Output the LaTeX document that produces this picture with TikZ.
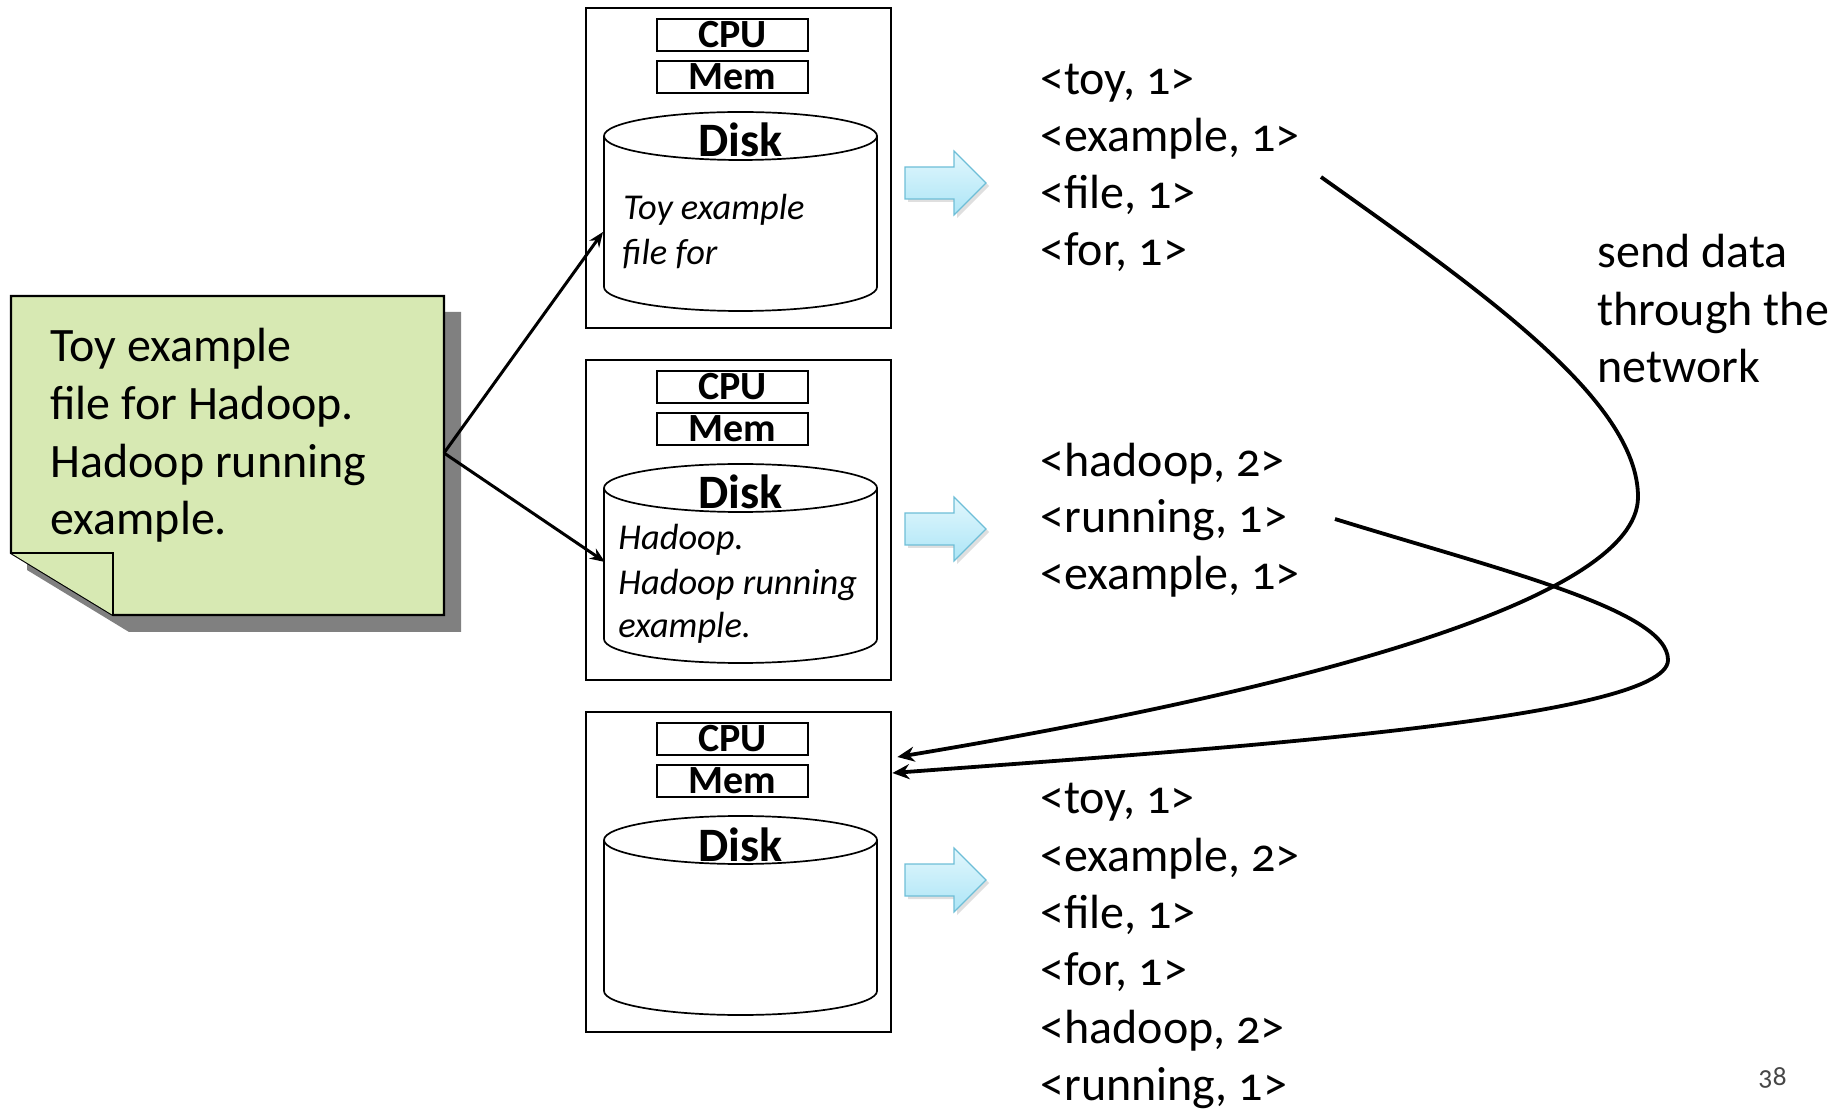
\documentclass[tikz,border=0pt]{standalone}
\usepackage{fontspec}
\setmainfont{Carlito}[Numbers=OldStyle]
\usetikzlibrary{arrows.meta,shadows,calc}
\definecolor{notefill}{RGB}{215,233,179}
\definecolor{noteshadow}{RGB}{128,128,128}
\definecolor{flowtop}{RGB}{226,247,253}
\definecolor{flowbot}{RGB}{172,229,246}
\definecolor{flowedge}{RGB}{110,190,215}
\definecolor{pagegray}{RGB}{70,70,70}
\begin{document}
\begin{tikzpicture}[x=0.5pt,y=-0.5pt,
  every node/.style={inner sep=0pt},
  txt/.style={anchor=base west, font=\fontsize{24pt}{28pt}\selectfont},
  ital/.style={anchor=base west, font=\fontsize{18.2pt}{22pt}\selectfont\itshape},
  unitbox/.style={draw, line width=0.9pt, minimum width=75.5pt, minimum height=16pt, font=\fontsize{20pt}{20pt}\selectfont\bfseries},
  machine/.style={draw, line width=1.2pt, minimum width=152.5pt, minimum height=160pt, anchor=north west},
  disklbl/.style={anchor=base, font=\fontsize{24pt}{24pt}\selectfont\bfseries},
  diskline/.style={line width=0.85pt},
  flow/.style={draw=flowedge, line width=0.6pt, top color=flowtop, bottom color=flowbot,
    drop shadow={opacity=0.25, shadow xshift=1.5pt, shadow yshift=-1.5pt}},
  net/.style={line width=1.9pt, -{Stealth[length=8.5pt,width=7.5pt]}},
  feed/.style={line width=1.5pt, -{Stealth[length=7.5pt,width=6pt]}}
]
\useasboundingbox (0,0) rectangle (1846,1111);

% sticky note
\fill[noteshadow] (27,312) -- (461,312) -- (461,632) -- (129,632) -- (27,570) -- cycle;
\filldraw[fill=notefill, draw=black, line width=1.1pt] (11,296) -- (444,296) -- (444,615) -- (113,615) -- (11,553) -- cycle;
\filldraw[fill=notefill, draw=black, line width=1.1pt] (11,553) -- (113,553) -- (113,615);
\node[txt] (note1) at (50,362) {Toy example};
\node[txt] (note2) at (50,420) {file for Hadoop.};
\node[txt] (note3) at (50,478) {Hadoop running};
\node[txt] (note4) at (50,535) {example.};
\coordinate (noteE) at (444,453);

% machines
\foreach \T/\i/\a in {7/1/176, 359/2/170, 711/3/169} {
  \node[machine] (m\i) at (585,\T) {};
  \node[unitbox] (cpu\i) at (732.5,\T+28) {CPU};
  \node[unitbox] (mem\i) at (732.5,\T+70) {Mem};
  \filldraw[diskline, fill=white] (604,\T+129) -- (604,\T+280)
    .. controls (604,\T+293.3) and (665.1,\T+304) .. (740.5,\T+304)
    .. controls (815.9,\T+304) and (877,\T+293.3) .. (877,\T+280)
    -- (877,\T+129);
  \draw[diskline] (740.5,\T+129) ellipse [x radius=68.25pt, y radius=12pt];
  \node[disklbl] (disk\i) at (740.5,\T+150) {Disk};
  \path[flow] (905,\T+\a-16) -- (954,\T+\a-16) -- (954,\T+\a-32) -- (986,\T+\a)
    -- (954,\T+\a+32) -- (954,\T+\a+16) -- (905,\T+\a+16) -- cycle;
}

% disk contents
\node[ital] (c1a) at (623,220) {Toy example};
\node[ital] (c1b) at (622,265) {file for};
\node[ital] (c2a) at (618,550) {Hadoop.};
\node[ital] (c2b) at (618,595) {Hadoop running};
\node[ital] (c2c) at (618,638) {example.};

% split arrows
\coordinate (d1w) at (603,232);
\coordinate (d2w) at (605,562);
\draw[feed] (noteE) -- (d1w);
\draw[feed] (noteE) -- (d2w);

% key/value lists
\node[txt] (k1) at (1040,95) {<toy, 1>};
\node[txt] (k2) at (1040,152) {<example, 1>};
\node[txt] (k3) at (1040,209) {<file, 1>};
\node[txt] (k4) at (1040,266) {<for, 1>};

\node[txt] (h1) at (1040,477) {<hadoop, 2>};
\node[txt] (h2) at (1040,533) {<running, 1>};
\node[txt] (h3) at (1040,590) {<example, 1>};

\node[txt] (r1) at (1040,813) {<toy, 1>};
\node[txt] (r2) at (1040,871) {<example, 2>};
\node[txt] (r3) at (1040,928) {<file, 1>};
\node[txt] (r4) at (1040,985) {<for, 1>};
\node[txt] (r5) at (1040,1043) {<hadoop, 2>};
\node[txt] (r6) at (1040,1100) {<running, 1>};

% network label
\node[txt] (lab1) at (1597,268) {send data};
\node[txt] (lab2) at (1597,326) {through the};
\node[txt] (lab3) at (1597,383) {network};

% network curves
\coordinate (s1) at (1321,177);
\coordinate (s2) at (1335,519);
\coordinate (t1) at ($(m3.north east)+(5,46)$);
\coordinate (t2) at ($(m3.north east)+(0,62)$);
\draw[net] (s1) .. controls (1480,290) and (1638,400) .. (1638,497)
  .. controls (1638,600) and (1300,690) .. (t1);
\draw[net] (s2) .. controls (1500,570) and (1668,610) .. (1668,660)
  .. controls (1668,720) and (1200,750) .. (t2);

% page number
\node[anchor=base west, text=pagegray, font=\fontsize{14pt}{14pt}\selectfont] (pg) at (1758,1085) {38};
\end{tikzpicture}
\end{document}
